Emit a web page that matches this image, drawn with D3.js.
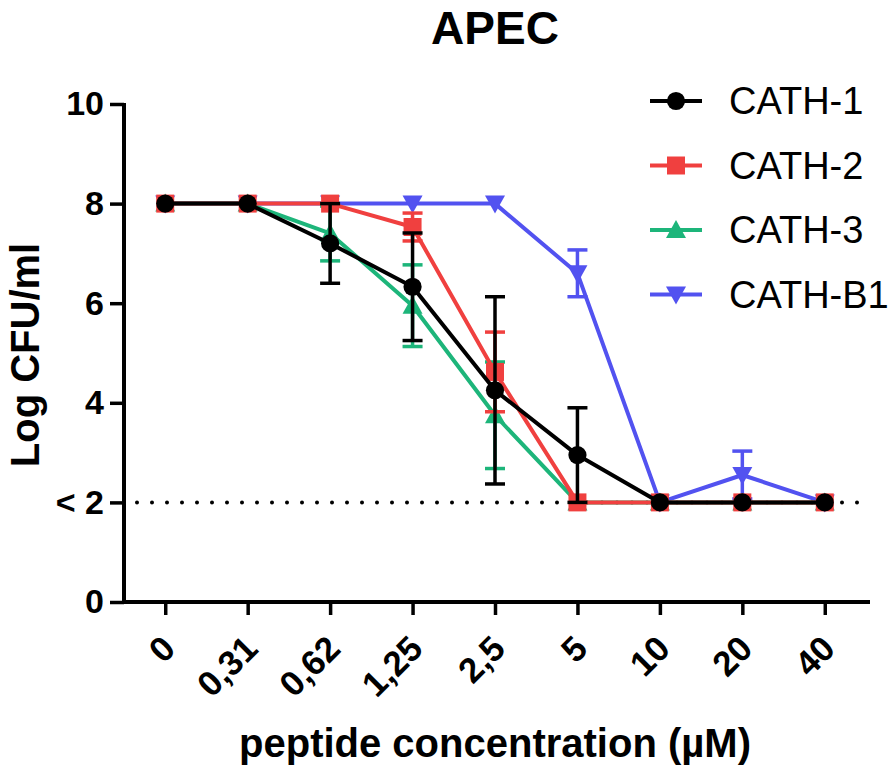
<!DOCTYPE html>
<html><head><meta charset="utf-8">
<script src="https://cdn.jsdelivr.net/npm/d3@7"></script>
<style>body{margin:0;background:#fff} svg{display:block}</style>
</head><body><svg id="c" width="896" height="771"></svg>
<script>
const categories = ["0","0,31","0,62","1,25","2,5","5","10","20","40"];
const yTickValues = [0,2,4,6,8,10];
const yTickLabels = ["0","< 2","4","6","8","10"];
const seriesNames = ["CATH-1","CATH-2","CATH-3","CATH-B1"];
const cath1Mean  = [8,8,7.2,6.33,4.25,2.95,2,2,2];
const cath1Err   = [0,0,0.8,1.08,1.88,0.95,0,0,0];
const cath2Mean  = [8,8,8,7.53,4.62,2,2,2,2];
const cath2Err   = [0,0,0,0.28,0.8,0,0,0,0];
const cath3Mean  = [8,8,7.4,5.95,3.75,2,2,2,2];
const cath3Err   = [0,0,0.55,0.82,1.07,0,0,0,0];
const cathB1Mean = [8,8,8,8,8,6.6,2,2.55,2];
const cathB1Err  = [0,0,0,0,0,0.47,0,0.48,0];
const detectionLimit = 2;
const title = "APEC";
const xTitle = "peptide concentration (µM)";
const yTitle = "Log CFU/ml";

const colors = {"CATH-1":"#000000","CATH-2":"#F0403F","CATH-3":"#1DB57A","CATH-B1":"#5252F0"};
const shapes = {"CATH-1":"circle","CATH-2":"square","CATH-3":"up","CATH-B1":"down"};
const series = [
  {name:"CATH-1", mean:cath1Mean, err:cath1Err},
  {name:"CATH-2", mean:cath2Mean, err:cath2Err},
  {name:"CATH-3", mean:cath3Mean, err:cath3Err},
  {name:"CATH-B1", mean:cathB1Mean, err:cathB1Err}
];
const drawOrder = ["CATH-B1","CATH-3","CATH-2","CATH-1"];

const FONT = "'Liberation Sans', Arial, Helvetica, sans-serif";
const svg = d3.select("#c");
const x = d3.scalePoint().domain(categories).range([124, 866]).padding(0.5);
const y = d3.scaleLinear().domain([0, 10]).range([602, 104]);

function markerPath(shape){
  if(shape==="circle") return d3.symbol(d3.symbolCircle, 260)();
  if(shape==="square") return "M-9,-9H9V9H-9Z";
  if(shape==="up") return "M0,-10L10,8L-10,8Z";
  return "M0,10L10,-8L-10,-8Z";
}

// title
svg.append("text").attr("x", 495).attr("y", 44).attr("text-anchor","middle")
  .style("font-family", FONT).style("font-weight","bold").style("font-size","46px").text(title);

// detection limit dotted line
svg.append("line").attr("x1", 137).attr("x2", 868).attr("y1", y(detectionLimit)).attr("y2", y(detectionLimit))
  .attr("stroke","#000").attr("stroke-width",4).attr("stroke-linecap","round").attr("stroke-dasharray","0 15");

// series
const line = d3.line().x((d,i)=>x(categories[i])).y(d=>y(d));
drawOrder.forEach(nm=>{
  const s = series.find(t=>t.name===nm);
  const c = colors[nm];
  const g = svg.append("g");
  g.append("path").attr("d", line(s.mean)).attr("fill","none").attr("stroke",c).attr("stroke-width",4).attr("stroke-linejoin","round");
  s.mean.forEach((m,i)=>{
    const e = s.err[i];
    if(e>0){
      const cx = x(categories[i]);
      g.append("line").attr("x1",cx).attr("x2",cx).attr("y1",y(m-e)).attr("y2",y(m+e)).attr("stroke",c).attr("stroke-width",3.5);
      [m-e, m+e].forEach(v=>{
        g.append("line").attr("x1",cx-10).attr("x2",cx+10).attr("y1",y(v)).attr("y2",y(v)).attr("stroke",c).attr("stroke-width",3.5);
      });
    }
  });
  g.selectAll("path.m").data(s.mean).enter().append("path").attr("class","m")
    .attr("d", markerPath(shapes[nm]))
    .attr("transform",(d,i)=>`translate(${x(categories[i])},${y(d)})`)
    .attr("fill", c);
});

// axes
const yAxis = d3.axisLeft(y).tickValues(yTickValues).tickFormat((d,i)=>yTickLabels[i]).tickSize(14).tickSizeOuter(0).tickPadding(6);
const gy = svg.append("g").attr("transform","translate(124,0)").call(yAxis);
gy.select(".domain").attr("stroke-width",4).attr("d", `M0,${y(10)-1}V${y(0)+2}`);
gy.selectAll(".tick line").attr("stroke-width",3.5);
gy.selectAll(".tick text").style("font-family",FONT).style("font-weight","bold").style("font-size","34px").attr("fill","#000");

const xAxis = d3.axisBottom(x).tickSize(13).tickSizeOuter(0);
const gx = svg.append("g").attr("transform","translate(0,602)").call(xAxis);
gx.select(".domain").attr("stroke-width",4).attr("d", `M122,0H870`);
gx.selectAll(".tick line").attr("stroke-width",3.5);
gx.selectAll(".tick text").style("font-family",FONT).style("font-weight","bold").style("font-size","35px").attr("fill","#000")
  .attr("y",null).attr("dy","0.35em").attr("text-anchor","end").attr("transform","translate(3,40) rotate(-45)");

// axis titles
svg.append("text").attr("x", 495).attr("y", 757).attr("text-anchor","middle")
  .style("font-family",FONT).style("font-weight","bold").style("font-size","40px").text(xTitle);
svg.append("text").attr("transform","translate(39,355) rotate(-90)").attr("text-anchor","middle")
  .style("font-family",FONT).style("font-weight","bold").style("font-size","40px").text(yTitle);

// legend
seriesNames.forEach((nm,i)=>{
  const ly = 101 + i*64.5;
  const g = svg.append("g").attr("transform",`translate(0,${ly})`);
  g.append("line").attr("x1",650).attr("x2",702).attr("stroke",colors[nm]).attr("stroke-width",4);
  g.append("path").attr("d", markerPath(shapes[nm])).attr("transform","translate(676,0)").attr("fill",colors[nm]);
  g.append("text").attr("x",729).attr("y",0).attr("dy","0.35em").style("font-family",FONT).style("font-size","38px").text(nm);
});
</script></body></html>
